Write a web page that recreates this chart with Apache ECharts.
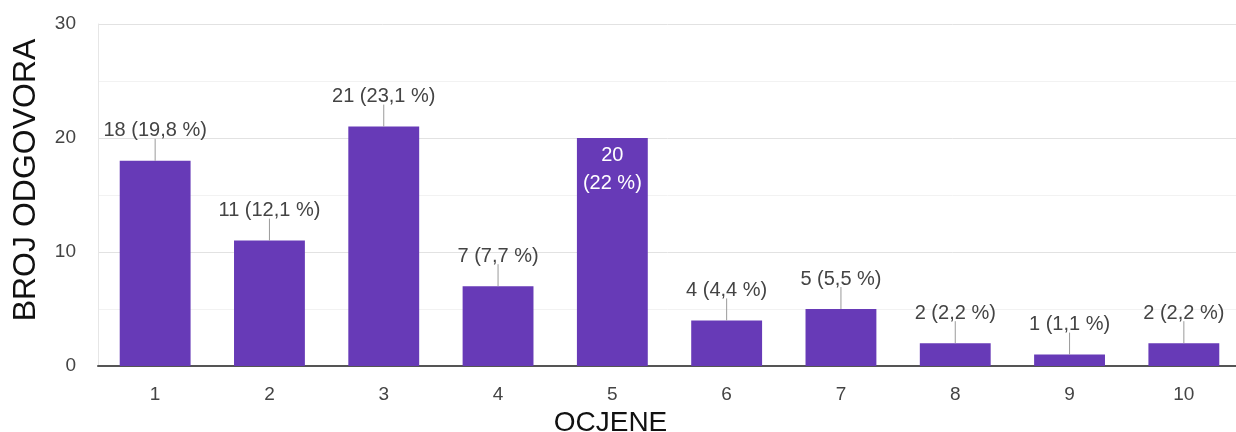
<!DOCTYPE html>
<html>
<head>
<meta charset="utf-8">
<script src="https://cdn.jsdelivr.net/npm/echarts@6/dist/echarts.min.js"></script>
<style>
html,body{margin:0;padding:0;background:#fff;}
#chart{width:1236px;height:432px;}
</style>
</head>
<body>
<div id="chart"></div>
<script>
const categories = ['1','2','3','4','5','6','7','8','9','10'];
const counts = [18, 11, 21, 7, 20, 4, 5, 2, 1, 2];
const percents = ['19,8','12,1','23,1','7,7','22','4,4','5,5','2,2','1,1','2,2'];
const yTicks = [0, 10, 20, 30];
const xTitle = 'OCJENE';
const yTitle = 'BROJ ODGOVORA';

const INSIDE_INDEX = 4;
const FONT = 'Liberation Sans, Arial, sans-serif';
const PURPLE = '#673ab7';

const chart = echarts.init(document.getElementById('chart'), null, {renderer: 'canvas'});

const barData = counts.map((v, i) => {
  if (i === INSIDE_INDEX) {
    return {
      value: v,
      label: {
        position: 'insideTop',
        distance: 3,
        color: '#ffffff',
        lineHeight: 28,
        formatter: v + '\n(' + percents[i] + ' %)'
      }
    };
  }
  return v;
});

const leaderData = counts.map((v, i) => [i, v, i === INSIDE_INDEX ? 0 : 1]);

chart.setOption({
  animation: false,
  grid: {left: 98, right: -5, top: 24, bottom: 66, containLabel: false, outerBoundsMode: 'none'},
  xAxis: {
    type: 'category',
    data: categories,
    axisLine: {show: true, lineStyle: {color: '#555', width: 2}},
    axisTick: {show: false},
    axisLabel: {color: '#444', fontSize: 19, fontFamily: FONT, margin: 19},
    name: xTitle,
    nameLocation: 'middle',
    nameGap: 32,
    nameTextStyle: {color: '#111', fontSize: 28, fontFamily: FONT, padding: [0, 118, 0, 0]}
  },
  yAxis: {
    type: 'value',
    min: yTicks[0],
    max: yTicks[yTicks.length - 1],
    interval: yTicks[1] - yTicks[0],
    axisLine: {show: true, lineStyle: {color: '#e6e6e6', width: 1}},
    axisTick: {show: false},
    axisLabel: {color: '#444', fontSize: 19, fontFamily: FONT, margin: 22},
    splitLine: {show: true, lineStyle: {color: '#e2e2e2', width: 1}},
    minorTick: {show: false, splitNumber: 2},
    minorSplitLine: {show: true, lineStyle: {color: '#f2f2f2', width: 1}},
    name: yTitle,
    nameLocation: 'middle',
    nameGap: 56,
    nameTextStyle: {color: '#111', fontSize: 32, fontFamily: FONT, padding: [0, 0, 0, 30]}
  },
  series: [
    {
      type: 'bar',
      data: barData,
      barWidth: '62%',
      itemStyle: {color: PURPLE},
      label: {
        show: true,
        position: 'top',
        distance: 20,
        color: '#444',
        fontSize: 20,
        fontFamily: FONT,
        formatter: p => counts[p.dataIndex] + ' (' + percents[p.dataIndex] + ' %)'
      },
      z: 2
    },
    {
      type: 'custom',
      data: leaderData,
      z: 3,
      silent: true,
      renderItem: function (params, api) {
        if (!api.value(2)) return null;
        const p = api.coord([api.value(0), api.value(1)]);
        return {
          type: 'line',
          shape: {x1: p[0], y1: p[1], x2: p[0], y2: p[1] - 22},
          style: {stroke: '#9a9a9a', lineWidth: 1}
        };
      }
    }
  ]
});
</script>
</body>
</html>
